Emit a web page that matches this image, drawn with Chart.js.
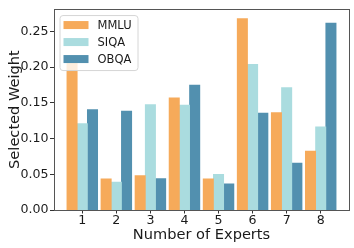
<!DOCTYPE html>
<html>
<head>
<meta charset="utf-8">
<script src="https://cdn.jsdelivr.net/npm/chart.js@4"></script>
<style>
  html, body { margin: 0; padding: 0; background: #fff; }
  #wrap { width: 354px; height: 248px; }
</style>
</head>
<body>
<div id="wrap"><canvas id="myChart" width="354" height="248"></canvas></div>
<script>
const experts = ['1', '2', '3', '4', '5', '6', '7', '8'];
const mmlu = [0.206, 0.0435, 0.048, 0.157, 0.0435, 0.268, 0.1365, 0.0825];
const siqa = [0.121, 0.039, 0.1475, 0.147, 0.050, 0.204, 0.1715, 0.1165];
const obqa = [0.1405, 0.1385, 0.044, 0.175, 0.0365, 0.1355, 0.0655, 0.2615];
const yTicks = [0, 0.05, 0.10, 0.15, 0.20, 0.25];

const FONT = 'DejaVu Sans';

function toPoints(vals) {
  return vals.map((v, i) => ({ x: i + 1, y: v }));
}

// box around the plot area
const frame = {
  id: 'frame',
  afterDatasetsDraw(chart) {
    const { ctx, chartArea: a } = chart;
    ctx.save();
    ctx.strokeStyle = '#555';
    ctx.lineWidth = 1;
    ctx.strokeRect(Math.round(a.left) + 0.5, Math.round(a.top) + 0.5,
      Math.round(a.right - a.left) - 1, Math.round(a.bottom - a.top));
    ctx.restore();
  }
};

// legend drawn inside the axes, upper left
const boxLegend = {
  id: 'boxLegend',
  afterDraw(chart) {
    const { ctx, chartArea: a } = chart;
    const x = a.left + 6, y = a.top + 6, w = 78, h = 55;
    ctx.save();
    ctx.beginPath();
    ctx.roundRect(x + 0.5, y + 0.5, w, h, 3);
    ctx.fillStyle = 'rgba(255,255,255,0.8)';
    ctx.fill();
    ctx.strokeStyle = '#d6d6d6';
    ctx.lineWidth = 1;
    ctx.stroke();
    ctx.font = '11.5px ' + FONT;
    ctx.textBaseline = 'middle';
    chart.data.datasets.forEach((ds, i) => {
      const cy = y + 10 + i * 17;
      ctx.fillStyle = ds.backgroundColor;
      ctx.fillRect(x + 4, cy - 4, 25, 8);
      ctx.fillStyle = '#1a1a1a';
      ctx.fillText(ds.label, x + 38, cy + 0.5);
    });
    ctx.restore();
  }
};

const ctx = document.getElementById('myChart');

new Chart(ctx, {
  type: 'bar',
  data: {
    datasets: [
      { label: 'MMLU', data: toPoints(mmlu), backgroundColor: '#F6AA5A' },
      { label: 'SIQA', data: toPoints(siqa), backgroundColor: '#AADCDF' },
      { label: 'OBQA', data: toPoints(obqa), backgroundColor: '#5290AF' },
    ].map(d => ({
      ...d,
      borderWidth: 0,
      inflateAmount: 0.4,
      categoryPercentage: 0.9,
      barPercentage: 1.0,
    }))
  },
  options: {
    responsive: false,
    animation: false,
    layout: { padding: { left: 0, right: 4.5, top: 5, bottom: 0 } },
    plugins: {
      legend: { display: false },
      tooltip: { enabled: false },
    },
    scales: {
      x: {
        type: 'linear',
        offset: false,
        min: 0.155,
        max: 8.845,
        afterFit: (s) => { s.height = 38; },
        afterBuildTicks: (s) => { s.ticks = experts.map((e, i) => ({ value: i + 1 })); },
        grid: {
          offset: false,
          drawOnChartArea: false,
          drawTicks: true,
          tickLength: 3.5,
          color: '#333',
        },
        border: { display: false },
        ticks: {
          includeBounds: false,
          autoSkip: false,
          maxRotation: 0,
          padding: 0,
          color: '#1a1a1a',
          font: { family: FONT, size: 12.6 },
          callback: (v, i) => experts[i],
        },
        title: {
          display: true,
          text: 'Number of Experts',
          color: '#1a1a1a',
          font: { family: FONT, size: 14.6 },
          padding: { top: 0, bottom: 4.5 },
        }
      },
      y: {
        min: 0,
        max: 0.2814,
        afterFit: (s) => { s.width = 53.5; },
        afterBuildTicks: (s) => { s.ticks = yTicks.map(v => ({ value: v })); },
        grid: {
          drawOnChartArea: false,
          drawTicks: true,
          tickLength: 3.5,
          color: '#333',
        },
        border: { display: false },
        ticks: {
          padding: 1.5,
          color: '#1a1a1a',
          font: { family: FONT, size: 12.6 },
          callback: (v) => v.toFixed(2),
        },
        title: {
          display: true,
          text: 'Selected Weight',
          color: '#1a1a1a',
          font: { family: FONT, size: 14.6 },
          padding: { top: 6, bottom: 0 },
        }
      }
    }
  },
  plugins: [frame, boxLegend]
});
</script>
</body>
</html>
